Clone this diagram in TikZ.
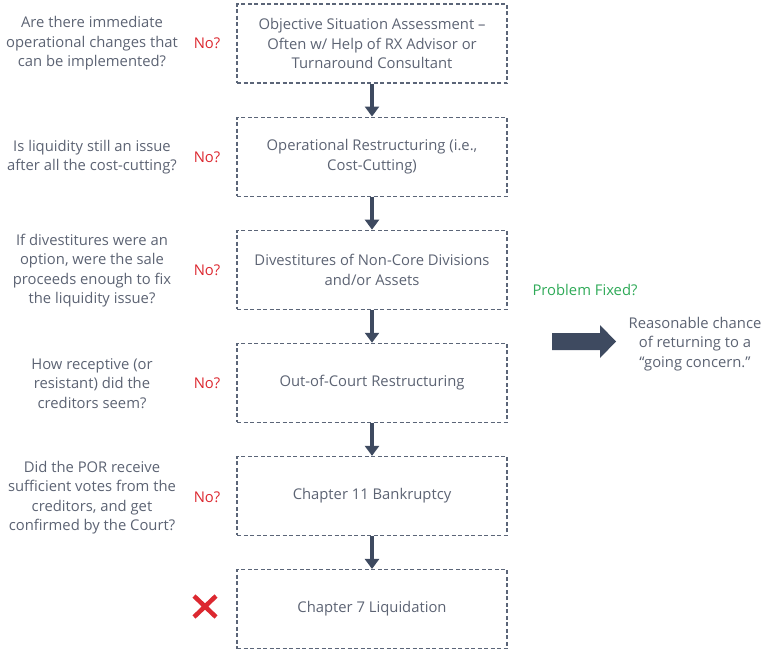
\documentclass[tikz,border=0pt]{standalone}
\usepackage{fontspec}
\setmainfont{Open Sans}
\usetikzlibrary{positioning,arrows.meta}

\definecolor{slate}{HTML}{3E4A60}
\definecolor{txtgray}{HTML}{5C6373}
\definecolor{noRed}{HTML}{DC2830}
\definecolor{fixGreen}{HTML}{2FAA58}

\tikzset{
  stagebox/.style={draw=slate!85, dash pattern=on 4pt off 2.5pt, line width=1.1pt,
    minimum width=270pt, minimum height=79pt, align=center, text=txtgray,
    font=\fontsize{14.8}{19.5}\selectfont},
  question/.style={align=center, text=txtgray, font=\fontsize{14.8}{19.5}\selectfont},
  noq/.style={text=noRed, font=\fontsize{14.8}{17}\selectfont},
  flow/.style={draw=slate, line width=3.5pt, -{Triangle[width=14pt,length=10pt]}}
}

\begin{document}
\begin{tikzpicture}[x=1pt,y=-1pt]
\useasboundingbox (0,0) rectangle (768,656);

% stages
\node[stagebox] (assess) at (372,43.5) {Objective Situation Assessment –\\Often w/ Help of RX Advisor or\\Turnaround Consultant};
\node[stagebox, below=33pt of assess] (oprx) {Operational Restructuring (i.e.,\\Cost-Cutting)};
\node[stagebox, below=33pt of oprx] (divest) {Divestitures of Non-Core Divisions\\and/or Assets};
\node[stagebox, below=33pt of divest] (ooc) {Out-of-Court Restructuring};
\node[stagebox, below=33pt of ooc] (ch11) {Chapter 11 Bankruptcy};
\node[stagebox, below=33pt of ch11] (ch7) {Chapter 7 Liquidation};

\draw[flow] (assess) -- (oprx);
\draw[flow] (oprx) -- (divest);
\draw[flow] (divest) -- (ooc);
\draw[flow] (ooc) -- (ch11);
\draw[flow] (ch11) -- (ch7);

% questions
\node[question] (q1) at (92,43.5) {Are there immediate\\operational changes that\\can be implemented?};
\node[question] (q2) at (92,157) {Is liquidity still an issue\\after all the cost-cutting?};
\node[question] (q3) at (92,270.5) {If divestitures were an\\option, were the sale\\proceeds enough to fix\\the liquidity issue?};
\node[question] (q4) at (92,383.5) {How receptive (or\\resistant) did the\\creditors seem?};
\node[question] (q5) at (92,497.5) {Did the POR receive\\sufficient votes from the\\creditors, and get\\confirmed by the Court?};

\node[noq] (n1) at (207,43.5) {No?};
\node[noq] (n2) at (207,157) {No?};
\node[noq] (n3) at (207,270.5) {No?};
\node[noq] (n4) at (207,383.5) {No?};
\node[noq] (n5) at (207,497.5) {No?};

% failed outcome
\draw[noRed, line width=4.5pt] (194,596) -- (216,617) (194,617) -- (216,596);

% fixed outcome
\node[text=fixGreen, font=\fontsize{14.8}{17}\selectfont] (fixed) at (585,290) {Problem Fixed?};
\fill[slate] (552,333) -- (600,333) -- (600,325) -- (616,341.5) -- (600,358) -- (600,350) -- (552,350) -- cycle;
\node[question] (going) at (695,344) {Reasonable chance\\of returning to a\\“going concern.”};
\end{tikzpicture}
\end{document}
